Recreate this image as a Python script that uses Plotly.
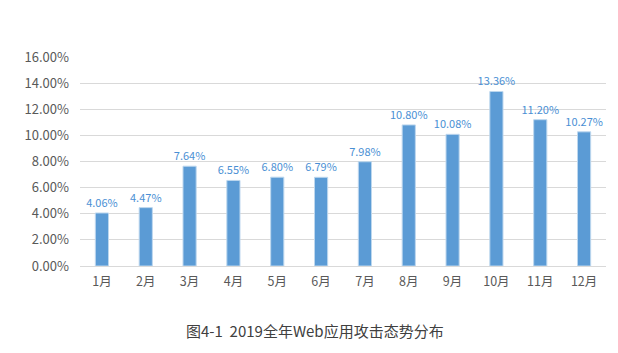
import plotly.graph_objects as go

months = ["1月", "2月", "3月", "4月", "5月", "6月", "7月", "8月", "9月", "10月", "11月", "12月"]
values = [4.06, 4.47, 7.64, 6.55, 6.80, 6.79, 7.98, 10.80, 10.08, 13.36, 11.20, 10.27]
tick_vals = [0, 2, 4, 6, 8, 10, 12, 14, 16]
tick_text = [f"{v:.2f}%" for v in tick_vals]
title = "图4-1  2019全年Web应用攻击态势分布"

font_family = "Noto Sans CJK SC, Microsoft YaHei, sans-serif"

fig = go.Figure(go.Bar(
    x=months, y=values,
    width=0.3,
    marker=dict(color="#5B9BD5", line=dict(color="#BDD7EE", width=1)),
    text=[f"{v:.2f}%" for v in values],
    textposition="outside",
    textangle=0,
    constraintext="none",
    cliponaxis=False,
    textfont=dict(color="#4A8FD4", size=11, family=font_family),
))

fig.update_layout(
    width=618, height=353,
    margin=dict(l=80, r=12, t=57, b=87),
    paper_bgcolor="white", plot_bgcolor="white",
    showlegend=False,
    font=dict(family=font_family, color="#595959", size=12),
    bargap=0.7,
    annotations=[dict(text=title, x=0.5, xref="paper", xanchor="center",
                      y=0, yref="paper", yanchor="middle", showarrow=False,
                      font=dict(size=15, color="#404040", family=font_family))],
)
fig.layout.annotations[0].update(x=(315 - 80) / (606 - 80), y=-(330 - 266) / (266 - 57))
fig.update_xaxes(showgrid=False, showline=False, ticks="", ticklabelstandoff=6,
                 tickfont=dict(size=12.5, color="#595959"))
fig.update_yaxes(range=[0, 16], tickvals=tick_vals, ticktext=tick_text,
                 showgrid=True, gridcolor="#D9D9D9", gridwidth=1,
                 zeroline=True, zerolinecolor="#D9D9D9", zerolinewidth=1,
                 ticks="", ticklabelstandoff=10,
                 tickfont=dict(size=13, color="#595959"))

fig.write_html("out.html")
